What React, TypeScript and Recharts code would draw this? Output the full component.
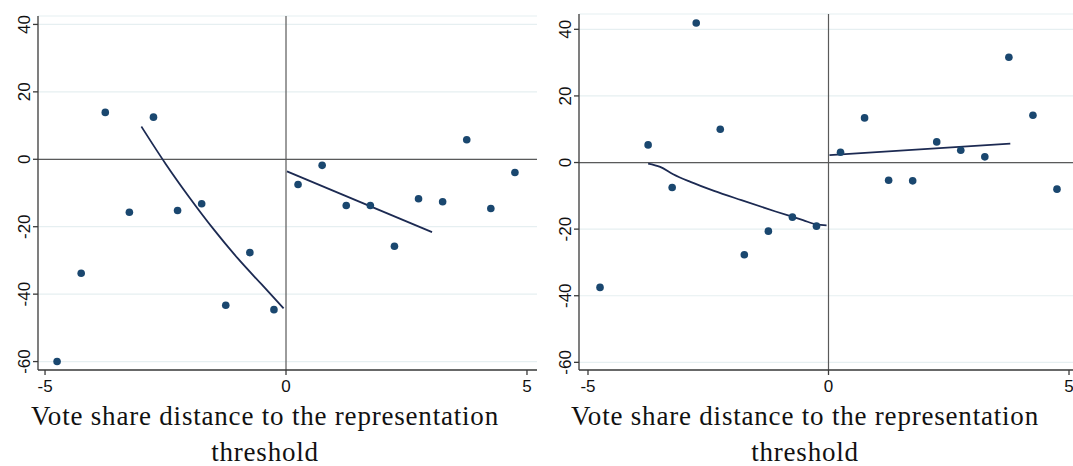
import { ComposedChart, Scatter, Line, XAxis, YAxis, CartesianGrid, ReferenceLine, Label } from 'recharts';

// Binned means, left panel
const leftBinsX = [-4.75, -4.25, -3.75, -3.25, -2.75, -2.25, -1.75, -1.25, -0.75, -0.25, 0.25, 0.75, 1.25, 1.75, 2.25, 2.75, 3.25, 3.75, 4.25, 4.75];
const leftBinsY = [-60, -33.8, 13.9, -15.7, 12.5, -15.2, -13.2, -43.3, -27.7, -44.6, -7.5, -1.8, -13.7, -13.7, -25.8, -11.7, -12.6, 5.8, -14.6, -3.9];

// Fitted curves, left panel
const leftFitBelowX = [-3.0, -2.5, -2.0, -1.5, -1.0, -0.5, -0.05];
const leftFitBelowY = [9.7, -1.3, -11.4, -20.8, -29.4, -37.2, -44.2];
const leftFitAboveX = [0.02, 3.03];
const leftFitAboveY = [-3.6, -21.6];

// Binned means, right panel
const rightBinsX = [-4.75, -3.75, -3.25, -2.75, -2.25, -1.75, -1.25, -0.75, -0.25, 0.25, 0.75, 1.25, 1.75, 2.25, 2.75, 3.25, 3.75, 4.25, 4.75];
const rightBinsY = [-37.5, 5.3, -7.5, 41.9, 10.0, -27.7, -20.6, -16.4, -19.1, 3.1, 13.4, -5.3, -5.5, 6.2, 3.7, 1.7, 31.6, 14.2, -8.0];

// Fitted curves, right panel
const rightFitBelowX = [-3.75, -3.5, -3.23, -2.87, -2.38, -1.81, -1.1, -0.53, -0.25, -0.04];
const rightFitBelowY = [-0.3, -1.3, -3.5, -5.8, -8.5, -11.3, -14.7, -17.3, -18.6, -18.9];
const rightFitAboveX = [0.02, 3.78];
const rightFitAboveY = [2.2, 5.7];

const xTicks = [-5, 0, 5];
const yTicks = [-60, -40, -20, 0, 20, 40];
const titleLines = ['Vote share distance to the representation', 'threshold'];

const zip = (xs: number[], ys: number[]) => xs.map((x, i) => ({ x, y: ys[i] }));

const DOT = '#1a476f';
const FIT = '#1c2a52';
const AXIS = '#3a3a3a';

const YTick = ({ x, y, payload }: any) => (
  <text
    x={x - 1}
    y={y}
    transform={`rotate(-90, ${x - 1}, ${y})`}
    textAnchor="middle"
    fontSize={17}
    fontFamily="Liberation Sans, Arial, sans-serif"
    fill="#111"
  >
    {payload.value}
  </text>
);

const XTick = ({ x, y, payload }: any) => (
  <text x={x} y={y + 15} textAnchor="middle" fontSize={17} fontFamily="Liberation Sans, Arial, sans-serif" fill="#111">
    {payload.value}
  </text>
);

const Dot = ({ cx, cy }: any) => <circle cx={cx} cy={cy} r={3.8} fill={DOT} />;

interface PanelProps {
  width: number;
  top: number;
  yAxisWidth: number;
  xDomain: [number, number];
  yDomain: [number, number];
  bins: { x: number; y: number }[];
  fits: { x: number; y: number }[][];
  titleX: number;
}

const Panel = ({ width, top, yAxisWidth, xDomain, yDomain, bins, fits, titleX }: PanelProps) => {
  // two-line axis title, centred on the whole panel
  const Title = () => (
    <text
      textAnchor="middle"
      fontSize={27}
      letterSpacing={0.8}
      fontFamily="Liberation Serif, Times New Roman, serif"
      fill="#111"
    >
      <tspan x={titleX} y={425}>{titleLines[0]}</tspan>
      <tspan x={titleX} y={461}>{titleLines[1]}</tspan>
    </text>
  );

  return (
    <ComposedChart width={width} height={466} margin={{ top, right: 0, bottom: 0, left: 0 }}>
      <CartesianGrid vertical={false} stroke="#e6eff1" strokeWidth={1.2} />
      <XAxis
        type="number"
        dataKey="x"
        domain={xDomain}
        ticks={xTicks}
        allowDataOverflow
        height={96}
        stroke={AXIS}
        strokeWidth={1.3}
        tickSize={5}
        tick={<XTick />}
      >
        <Label content={<Title />} />
      </XAxis>
      <YAxis
        type="number"
        dataKey="y"
        domain={yDomain}
        ticks={yTicks}
        allowDataOverflow
        width={yAxisWidth}
        stroke={AXIS}
        strokeWidth={1.3}
        tickSize={5}
        tick={<YTick />}
      />
      <ReferenceLine x={0} stroke="#5a5a5a" strokeWidth={1.2} />
      <ReferenceLine y={0} stroke="#5a5a5a" strokeWidth={1.2} />
      <Scatter data={bins} shape={<Dot />} isAnimationActive={false} />
      {fits.map((d, i) => (
        <Line
          key={i}
          data={d}
          dataKey="y"
          type={d.length > 3 ? 'monotone' : 'linear'}
          stroke={FIT}
          strokeWidth={1.8}
          dot={false}
          activeDot={false}
          isAnimationActive={false}
        />
      ))}
    </ComposedChart>
  );
};

export default function App() {
  return (
    <div style={{ position: 'absolute', left: 0, top: 0, width: 1073, height: 466, background: '#fff', display: 'flex' }}>
      <Panel
        width={537}
        top={16}
        yAxisWidth={38}
        xDomain={[-5.146, 5.208]}
        yDomain={[-62.5, 42.5]}
        bins={zip(leftBinsX, leftBinsY)}
        fits={[zip(leftFitBelowX, leftFitBelowY), zip(leftFitAboveX, leftFitAboveY)]}
        titleX={265}
      />
      <Panel
        width={536}
        top={14}
        yAxisWidth={42}
        xDomain={[-5.187, 5.083]}
        yDomain={[-62.3, 44.6]}
        bins={zip(rightBinsX, rightBinsY)}
        fits={[zip(rightFitBelowX, rightFitBelowY), zip(rightFitAboveX, rightFitAboveY)]}
        titleX={268}
      />
    </div>
  );
}
